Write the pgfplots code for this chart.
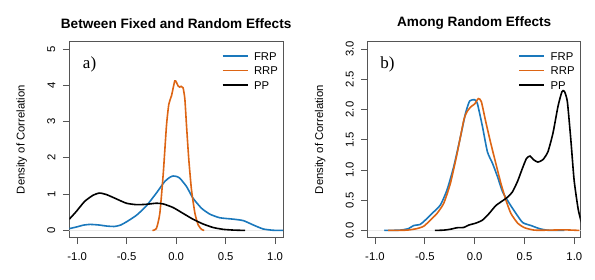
\documentclass[border=0pt]{standalone}
\usepackage{fontspec}
\setmainfont{Liberation Sans}
\newfontfamily\seriffont{Liberation Serif}
\usepackage{pgfplots}
\pgfplotsset{compat=1.18}
\definecolor{cblue}{HTML}{1A78BC}
\definecolor{corange}{HTML}{DD6514}
\definecolor{boxgray}{HTML}{555555}
\pgfplotsset{
  myaxis/.style={
    scale only axis,
    height=196bp,
    anchor=south west,
    axis line style={boxgray, line width=0.9bp},
    tick style={boxgray, line width=0.8bp},
    tick align=outside,
    major tick length=6.5bp,
    xtick pos=bottom, ytick pos=left,
    xticklabel shift=5bp, yticklabel shift=4bp,
    /pgf/number format/assume math mode=true,
    /pgf/number format/fixed,
    /pgf/number format/fixed zerofill,
    /pgf/number format/precision=1,
    xtick={-1,-0.5,0,0.5,1},
    ticklabel style={font=\fontsize{11.3bp}{13bp}\selectfont, text=black},
    yticklabel style={rotate=90, anchor=south},
    ylabel={Density of Correlation},
    ylabel style={at={(axis description cs:-0.223,0.5)}, anchor=center, font=\fontsize{11.3bp}{13bp}\selectfont},
    title style={at={(axis description cs:0.5,1.064)}, anchor=center, font=\fontsize{13.6bp}{16bp}\selectfont\bfseries},
    legend style={draw=none, fill=none, inner sep=0pt, row sep=6.3bp, column sep=5.6bp,
      font=\fontsize{11.3bp}{13bp}\selectfont,
      nodes={inner sep=0pt, text height=8.2bp, text depth=0pt, anchor=west}},
    legend cell align=left,
    legend image code/.code={\draw[#1, line width=1.6bp] (0bp,0bp) -- (25bp,0bp);},
    every axis plot/.append style={line width=1.6bp, smooth, tension=0.35},
  }
}
\begin{document}
\begin{tikzpicture}
\begin{axis}[myaxis,
  at={(69.3bp,42.3bp)}, width=213.7bp,
  xmin=-1.08, xmax=1.08, ymin=-0.2, ymax=5.2,
  ytick={0,1,2,3,4,5},
  yticklabel style={/pgf/number format/precision=0},
  title={Between Fixed and Random Effects},
  legend style={at={(axis description cs:0.713,0.948)}, anchor=north west},
]
\addplot[black!8, line width=0.6bp, forget plot, sharp plot] coordinates {(-1.08,0) (1.08,0)};
\addplot[cblue] coordinates {(-1.08,0.05) (-1.0,0.10) (-0.94,0.145) (-0.87,0.166) (-0.78,0.15) (-0.70,0.12) (-0.62,0.11) (-0.56,0.15) (-0.50,0.24) (-0.40,0.42) (-0.30,0.68) (-0.20,1.03) (-0.115,1.35) (-0.06,1.47) (-0.03,1.50) (0.0,1.49) (0.037,1.44) (0.105,1.21) (0.17,0.89) (0.257,0.61) (0.34,0.45) (0.44,0.35) (0.58,0.31) (0.68,0.27) (0.78,0.15) (0.88,0.04) (0.98,0.005) (1.08,0)};
\addlegendentry{FRP}
\addplot[corange] coordinates {(-0.24,0) (-0.20,0.05) (-0.165,0.47) (-0.13,1.58) (-0.098,2.88) (-0.074,3.48) (-0.047,3.71) (-0.014,4.12) (0.003,4.08) (0.02,3.98) (0.035,3.95) (0.05,3.97) (0.07,3.93) (0.088,3.62) (0.105,2.88) (0.128,1.95) (0.155,1.12) (0.19,0.47) (0.223,0.15) (0.257,0.03) (0.284,0)};
\addlegendentry{RRP}
\addplot[black] coordinates {(-1.08,0.31) (-1.01,0.52) (-0.925,0.80) (-0.84,0.97) (-0.775,1.03) (-0.706,0.99) (-0.605,0.87) (-0.503,0.75) (-0.40,0.71) (-0.30,0.72) (-0.20,0.75) (-0.13,0.73) (-0.03,0.63) (0.07,0.47) (0.17,0.31) (0.27,0.18) (0.375,0.08) (0.476,0.03) (0.578,0.01) (0.696,0)};
\addlegendentry{PP}
\node[font=\fontsize{17bp}{19bp}\selectfont\seriffont, anchor=west, inner sep=0pt] at (axis description cs:0.063,0.885) {a)};
\end{axis}
\begin{axis}[myaxis,
  at={(367.7bp,42.3bp)}, width=213bp,
  xmin=-1.073, xmax=1.064, ymin=-0.12, ymax=3.12,
  ytick={0,0.5,1,1.5,2,2.5,3},
  title={Among Random Effects},
  legend style={at={(axis description cs:0.707,0.948)}, anchor=north west},
]
\addplot[black!8, line width=0.6bp, forget plot, sharp plot] coordinates {(-1.073,0) (1.064,0)};
\addplot[cblue] coordinates {(-0.907,0) (-0.75,0.005) (-0.664,0.03) (-0.614,0.08) (-0.546,0.10) (-0.496,0.17) (-0.428,0.28) (-0.344,0.42) (-0.277,0.67) (-0.209,1.06) (-0.142,1.55) (-0.091,1.94) (-0.05,2.14) (0,2.16) (0.027,2.10) (0.078,1.72) (0.128,1.30) (0.179,1.11) (0.229,0.89) (0.28,0.64) (0.347,0.45) (0.415,0.28) (0.482,0.13) (0.567,0.08) (0.65,0.03) (0.735,0.003) (0.90,0)};
\addlegendentry{FRP}
\addplot[corange] coordinates {(-0.867,0) (-0.68,0.005) (-0.58,0.03) (-0.51,0.07) (-0.445,0.17) (-0.378,0.28) (-0.31,0.45) (-0.243,0.78) (-0.175,1.28) (-0.108,1.83) (-0.074,1.97) (-0.034,2.05) (0,2.09) (0.037,2.18) (0.067,2.13) (0.111,1.80) (0.162,1.44) (0.212,1.11) (0.263,0.78) (0.314,0.50) (0.364,0.28) (0.432,0.12) (0.50,0.045) (0.60,0.005) (0.75,0.005) (0.90,0.01) (1.05,0)};
\addlegendentry{RRP}
\addplot[black] coordinates {(-0.40,0) (-0.31,0.005) (-0.243,0.02) (-0.175,0.045) (-0.108,0.05) (-0.057,0.09) (0.01,0.12) (0.078,0.17) (0.145,0.28) (0.212,0.41) (0.28,0.49) (0.33,0.55) (0.38,0.64) (0.43,0.81) (0.48,1.03) (0.52,1.19) (0.556,1.23) (0.59,1.17) (0.634,1.13) (0.685,1.17) (0.735,1.30) (0.786,1.61) (0.836,2.05) (0.875,2.29) (0.90,2.30) (0.93,2.13) (0.965,1.50) (0.998,0.83) (1.04,0.34) (1.083,0.06)};
\addlegendentry{PP}
\node[font=\fontsize{17bp}{19bp}\selectfont\seriffont, anchor=west, inner sep=0pt] at (axis description cs:0.058,0.885) {b)};
\end{axis}
\pgfresetboundingbox
\path[use as bounding box] (0bp,0bp) rectangle (595bp,280bp);
\end{tikzpicture}
\end{document}
